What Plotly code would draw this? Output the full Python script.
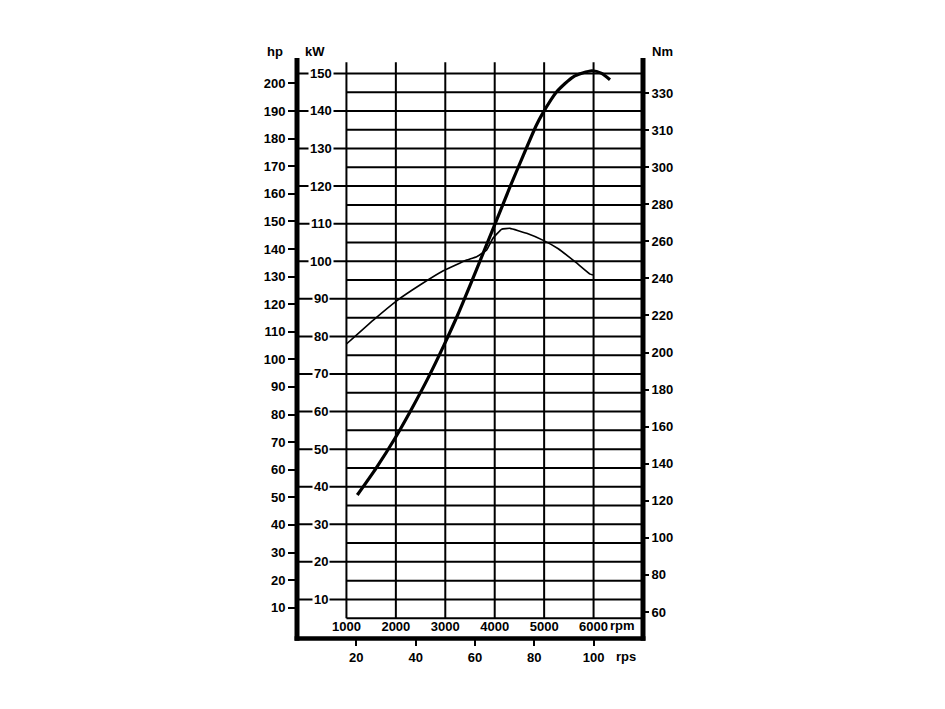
import plotly.graph_objects as go

# ---------------- data ----------------
power_rpm = [1220, 1598, 1983, 2327, 2650, 2974, 3257, 3520, 3783, 4046, 4309,
             4572, 4835, 4950, 5254, 5590, 5962, 6164, 6332]
power_kw = [37.8, 44.9, 52.9, 60.9, 68.9, 77.7, 85.9, 94.2, 102.7, 111.2, 119.8,
            128.0, 136.0, 138.9, 145.1, 149.1, 150.7, 150.0, 148.3]

torque_rpm = [1000, 1544, 2017, 2488, 2960, 3433, 3636, 3838, 3960, 4141, 4309,
              4647, 4983, 5286, 5656, 5928, 5988]
torque_nm = [204.6, 217.5, 227.9, 236.4, 244.1, 249.9, 251.7, 255.3, 261.5, 266.5, 267.0,
             264.3, 260.5, 256.0, 248.3, 242.3, 241.8]

rpm_ticks = [1000, 2000, 3000, 4000, 5000, 6000]
rps_ticks = [20, 40, 60, 80, 100]
hp_ticks = list(range(10, 201, 10))
kw_labels = list(range(10, 151, 10))
kw_grid = list(range(5, 151, 5))
nm_tickvals = [60, 80, 100, 120, 140, 160, 180, 200, 220, 240, 260, 280, 300, 320, 340]
nm_ticktext = ["60", "80", "100", "120", "140", "160", "180", "200", "220", "240",
               "260", "280", "300", "310", "330"]

# ---------------- geometry ----------------
W, H = 945, 709
L, R, T, B = 297, 302, 58, 72
PW, PH = W - L - R, H - T - B
RPM_MAX = 7000
KW_MAX = 154.1
HP_RANGE = [-0.62, 209.2]
NM_RANGE = [46.5, 358.9]

FONT = "Liberation Sans, Arial, sans-serif"
FS = 13
FW = "bold"


def px_x(p):
    return (p - L) / PW


def px_y(p):
    return (H - B - p) / PH


tfont = dict(family=FONT, size=FS, color="black", weight=FW)

fig = go.Figure()

fig.add_trace(go.Scatter(x=power_rpm, y=power_kw, mode="lines",
                         line=dict(color="black", width=3.2, shape="spline", smoothing=0.6),
                         xaxis="x", yaxis="y", showlegend=False, hoverinfo="skip"))
fig.add_trace(go.Scatter(x=torque_rpm, y=torque_nm, mode="lines",
                         line=dict(color="black", width=1.6, shape="spline", smoothing=0.3),
                         xaxis="x", yaxis="y3", showlegend=False, hoverinfo="skip"))
# carrier for the hp and rps axes
fig.add_trace(go.Scatter(x=[None], y=[None], xaxis="x2", yaxis="y2",
                         showlegend=False, hoverinfo="skip"))

shapes = []
for r in rpm_ticks:
    shapes.append(dict(type="line", xref="x", yref="y", x0=r, x1=r, y0=5, y1=153,
                       line=dict(color="black", width=2), layer="below"))
for k in kw_grid:
    x0 = 0 if k % 10 == 0 else 1000
    shapes.append(dict(type="line", xref="x", yref="y", x0=x0, x1=RPM_MAX, y0=k, y1=k,
                       line=dict(color="black", width=2), layer="below"))
# heavy frame lines
yb = -1.5 / PH
shapes.append(dict(type="line", xref="paper", yref="paper", x0=0, x1=0, y0=yb - 0.004, y1=1,
                   line=dict(color="black", width=5)))
shapes.append(dict(type="line", xref="paper", yref="paper", x0=1, x1=1, y0=yb - 0.004, y1=1,
                   line=dict(color="black", width=5)))
shapes.append(dict(type="line", xref="paper", yref="paper", x0=-0.007, x1=1.007, y0=yb, y1=yb,
                   line=dict(color="black", width=4.5)))

annotations = []
for v in kw_labels:
    annotations.append(dict(x=490, y=v, xref="x", yref="y", text=str(v), showarrow=False,
                            font=tfont, bgcolor="white", borderpad=1,
                            xanchor="center", yanchor="middle"))
for txt, cx, cy in [("hp", 275, 51), ("kW", 315, 51), ("Nm", 662, 52),
                    ("rpm", 622, 625), ("rps", 626, 656)]:
    annotations.append(dict(x=px_x(cx), y=px_y(cy), xref="paper", yref="paper", text=txt,
                            showarrow=False, font=tfont, xanchor="center", yanchor="middle"))

axis_common = dict(showgrid=False, zeroline=False, showline=False, fixedrange=True,
                   tickfont=tfont, automargin=False)

fig.update_layout(
    width=W, height=H,
    margin=dict(l=L, r=R, t=T, b=B, pad=0),
    paper_bgcolor="white", plot_bgcolor="white",
    font=dict(family=FONT, size=FS, color="black"),
    showlegend=False,
    xaxis=dict(range=[0, RPM_MAX], tickvals=rpm_ticks, ticks="",
               ticklabelposition="inside", anchor="y", side="bottom", **axis_common),
    xaxis2=dict(range=[0, RPM_MAX / 60], tickvals=rps_ticks, ticks="outside", ticklen=8,
                tickwidth=2, tickcolor="black", overlaying="x", anchor="y", side="bottom",
                **axis_common),
    yaxis=dict(range=[0, KW_MAX], showticklabels=False, ticks="", anchor="x", **axis_common),
    yaxis2=dict(range=HP_RANGE, tickvals=hp_ticks, ticks="outside", ticklen=8, tickwidth=2,
                tickcolor="black", overlaying="y", side="left", anchor="x", **axis_common),
    yaxis3=dict(range=NM_RANGE, tickvals=nm_tickvals, ticktext=nm_ticktext, ticks="outside",
                ticklen=5, tickwidth=2, tickcolor="black", overlaying="y", side="right",
                anchor="x", **axis_common),
    shapes=shapes,
    annotations=annotations,
)

fig.write_html("out.html")
